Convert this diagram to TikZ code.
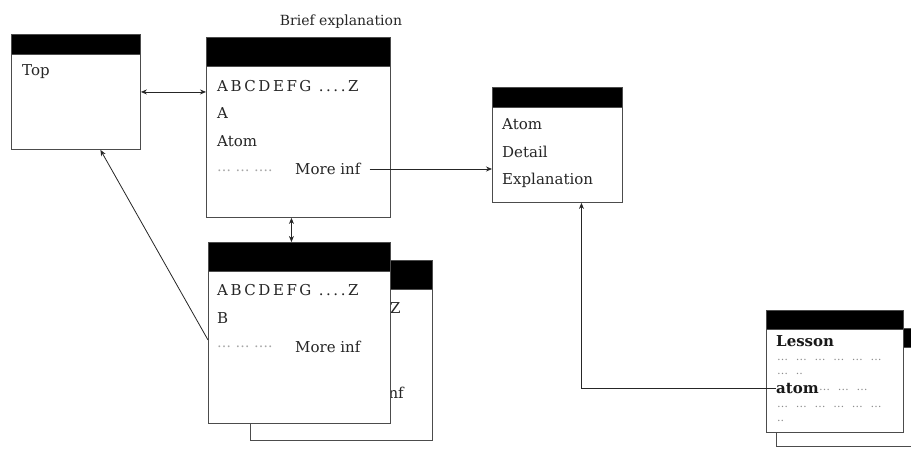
\documentclass[tikz,border=0pt]{standalone}
\usepackage{fontspec}
\setmainfont{DejaVu Serif}
\newfontfamily\monof[LetterSpace=17]{DejaVu Serif}
\newfontfamily\dotf[WordSpace=2.2]{DejaVu Serif}
\usetikzlibrary{arrows.meta}
\begin{document}
\begin{tikzpicture}[x=1pt,y=-1pt,
  win/.style={draw=black!70, line width=0.9pt, fill=white, anchor=north west, inner sep=0pt},
  bar/.style={fill=black, draw=black!70, line width=0.9pt},
  txt/.style={anchor=west, inner sep=0pt, text=black!85, font=\fontsize{15}{18}\selectfont},
  mono/.style={anchor=west, inner sep=0pt, text=black!85, font=\monof\fontsize{15}{18}\selectfont},
  dotsA/.style={anchor=west, inner sep=0pt, text=black!35, font=\fontsize{14}{16}\selectfont},
  dotsB/.style={anchor=west, inner sep=0pt, text=black!45, font=\dotf\fontsize{11}{12}\selectfont},
  bold/.style={anchor=west, inner sep=0pt, text=black!90, font=\bfseries\fontsize{15}{18}\selectfont},
  conn/.style={draw=black!85, line width=0.8pt},
  tip/.style={-{Stealth[length=6pt,width=5pt]}},
  tips/.style={{Stealth[length=6pt,width=5pt]}-{Stealth[length=6pt,width=5pt]}}
]
\useasboundingbox (0,0) rectangle (911,448);
\clip (0,0) rectangle (911,448);

% Top window
\node[win, minimum width=129pt, minimum height=115pt] (top) at (11,34) {};
\fill[bar] (top.north west) rectangle ([yshift=-20pt]top.north east);
\node[txt] (ttop) at (22,72) {Top};

% Brief explanation window
\node[anchor=center, inner sep=0pt, text=black!85, font=\fontsize{14}{16}\selectfont] (cap) at (341,22) {Brief explanation};
\node[win, minimum width=184pt, minimum height=180pt] (brief) at (206,37) {};
\fill[bar] (brief.north west) rectangle ([yshift=-29pt]brief.north east);
\node[mono] (b1) at (217,86) {ABCDEFG ....Z};
\node[txt] (b2) at (217,113) {A};
\node[txt] (b3) at (217,141) {Atom};
\node[dotsA] (b4) at (217,171) {… … ….};
\node[txt] (mi) at (295,169) {More inf};

% Atom window
\node[win, minimum width=130pt, minimum height=115pt] (atomw) at (492,87) {};
\fill[bar] (atomw.north west) rectangle ([yshift=-20pt]atomw.north east);
\node[txt] (a1) at (502,124) {Atom};
\node[txt] (a2) at (502,152) {Detail};
\node[txt] (a3) at (502,180) {Explanation};

% B windows (back)
\node[win, minimum width=182pt, minimum height=180pt] (bback) at (250,260) {};
\fill[bar] (bback.north west) rectangle ([yshift=-29pt]bback.north east);
\node[mono] (bb1) at (259,308) {ABCDEFG ....Z};
\node[txt, anchor=east] (bbmi) at (404,393) {More inf};

% B window (front)
\node[win, minimum width=182pt, minimum height=181pt] (bfront) at (208,242) {};
\fill[bar] (bfront.north west) rectangle ([yshift=-29pt]bfront.north east);
\node[mono] (f1) at (217,290) {ABCDEFG ....Z};
\node[txt] (f2) at (217,318) {B};
\node[dotsA] (f3) at (217,347) {… … ….};
\node[txt] (fmi) at (295,347) {More inf};

% Lesson windows
\node[win, minimum width=200pt, minimum height=118pt] (lback) at (776,328) {};
\fill[bar] (lback.north west) rectangle ([yshift=-19pt]lback.north east);
\node[win, minimum width=137pt, minimum height=122pt] (lfront) at (766,310) {};
\fill[bar] (lfront.north west) rectangle ([yshift=-19pt]lfront.north east);
\node[bold] (l1) at (776,341) {Lesson};
\node[dotsB] (l2) at (777,360) {… … … … … …};
\node[dotsB] (l3) at (777,374) {… ..};
\node[bold] (lat) at (776,388) {atom};
\node[dotsB, anchor=west] (l4) at ([yshift=-2pt]lat.east) {… … …};
\node[dotsB] (l5) at (777,407) {… … … … … …};
\node[dotsB] (l6) at (777,421) {..};

% connectors
\draw[conn, tips] (top.east) -- (top.east -| brief.west);
\draw[conn, tip] ([xshift=9pt]mi.east) -- (mi.east -| atomw.west);
\coordinate (bx) at ([xshift=-7pt]brief.south);
\draw[conn, tips] (bx) -- (bx |- bfront.north);
\coordinate (topin) at ([xshift=24.5pt]top.south);
\draw[conn, tip] ([yshift=-7pt]bfront.west) -- (topin);
\coordinate (ain) at ([xshift=24pt]atomw.south);
\draw[conn, tip] (lat.west) -| (ain);
\end{tikzpicture}
\end{document}
